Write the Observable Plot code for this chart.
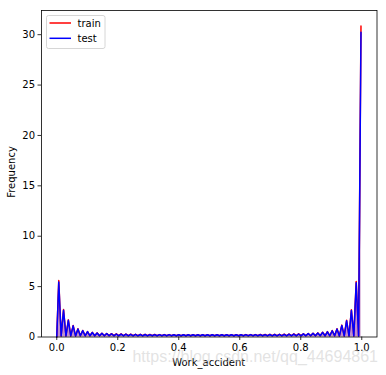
<!DOCTYPE html>
<html>
<head>
<meta charset="utf-8">
<script src="https://cdn.jsdelivr.net/npm/d3@7"></script>
<script src="https://cdn.jsdelivr.net/npm/@observablehq/plot@0.6"></script>
<style>
html,body{margin:0;padding:0;background:#fff;}
#chart{width:386px;height:375px;}
</style>
</head>
<body>
<div id="chart"></div>
<script>
// ---- data ----
const peakX = [0.0066,0.0223,0.0381,0.0538,0.0695,0.0853,0.1010,0.1167,0.1324,0.1482,
  0.1639,0.1796,0.1954,0.2111,0.2268,0.2426,0.2583,0.2740,0.2897,0.3055,
  0.3212,0.3369,0.3527,0.3684,0.3841,0.3999,0.4156,0.4313,0.4470,0.4628,
  0.4785,0.4942,0.5100,0.5257,0.5414,0.5572,0.5729,0.5886,0.6043,0.6201,
  0.6358,0.6515,0.6673,0.6830,0.6987,0.7145,0.7302,0.7459,0.7616,0.7774,
  0.7931,0.8088,0.8246,0.8403,0.8560,0.8718,0.8875,0.9032,0.9189,0.9347,
  0.9504,0.9661,0.9818,0.9975];
const trainPeak = [5.60,2.72,1.70,1.14,0.82,0.65,0.54,0.46,0.41,0.38,
  0.35,0.33,0.31,0.30,0.29,0.28,0.27,0.26,0.26,0.25,
  0.25,0.24,0.24,0.24,0.23,0.23,0.23,0.23,0.23,0.23,
  0.23,0.23,0.23,0.23,0.23,0.23,0.23,0.23,0.23,0.24,
  0.24,0.24,0.25,0.25,0.26,0.26,0.27,0.28,0.29,0.30,
  0.31,0.32,0.35,0.38,0.41,0.47,0.54,0.64,0.82,1.18,
  1.66,2.70,5.50,30.85];
const testPeak = [5.45,2.66,1.66,1.11,0.80,0.63,0.53,0.45,0.40,0.37,
  0.34,0.32,0.30,0.29,0.28,0.27,0.26,0.25,0.25,0.24,
  0.24,0.23,0.23,0.23,0.22,0.22,0.22,0.22,0.22,0.22,
  0.22,0.22,0.22,0.22,0.22,0.22,0.22,0.22,0.22,0.23,
  0.23,0.23,0.24,0.24,0.25,0.25,0.26,0.27,0.28,0.29,
  0.30,0.31,0.34,0.37,0.40,0.46,0.52,0.62,0.80,1.15,
  1.62,2.64,5.38,30.25];
const trainTrough = [0.10,0.10,0.11,0.11,0.12,0.12,0.12,0.13,0.13,0.13,
  0.13,0.13,0.13,0.13,0.13,0.13,0.13,0.13,0.13,0.13,
  0.13,0.13,0.13,0.13,0.13,0.13,0.13,0.13,0.13,0.13,
  0.13,0.13,0.13,0.13,0.13,0.13,0.13,0.13,0.13,0.13,
  0.13,0.13,0.13,0.13,0.13,0.13,0.13,0.13,0.13,0.13,
  0.13,0.13,0.13,0.13,0.13,0.12,0.12,0.12,0.11,0.11,
  0.10,0.10,0.10];
const testTrough = [0.10,0.10,0.11,0.11,0.12,0.12,0.12,0.12,0.12,0.12,
  0.12,0.12,0.12,0.12,0.12,0.12,0.12,0.12,0.12,0.12,
  0.12,0.12,0.12,0.12,0.12,0.12,0.12,0.12,0.12,0.12,
  0.12,0.12,0.12,0.12,0.12,0.12,0.12,0.12,0.12,0.12,
  0.12,0.12,0.12,0.12,0.12,0.12,0.12,0.12,0.12,0.12,
  0.12,0.12,0.12,0.12,0.12,0.12,0.12,0.12,0.11,0.11,
  0.10,0.10,0.10];
const xTicks = [0, 0.2, 0.4, 0.6, 0.8, 1.0];
const yTicks = [0, 5, 10, 15, 20, 25, 30];
const seriesNames = ["train", "test"];
const seriesColors = ["#ff0000", "#0000ff"];

// ---- table ----
const rows = [{x: 0, train: 0, test: 0}];
for (let k = 0; k < peakX.length; k++) {
  rows.push({x: peakX[k], train: trainPeak[k], test: testPeak[k]});
  if (k < peakX.length - 1) {
    rows.push({x: (peakX[k] + peakX[k + 1]) / 2, train: trainTrough[k], test: testTrough[k]});
  }
}

const chart = Plot.plot({
  width: 386, height: 375,
  marginLeft: 41, marginRight: 9.5, marginTop: 10, marginBottom: 38.5,
  style: {fontFamily: "DejaVu Sans", fontSize: "10px", color: "black", background: "white", overflow: "visible"},
  x: {domain: [-0.05, 1.05]},
  y: {domain: [0, 32.4]},
  marks: [
    Plot.lineY(rows, {x: "x", y: "train", stroke: seriesColors[0], strokeWidth: 1.5}),
    Plot.areaY(rows, {x: "x", y: "train", fill: seriesColors[0], fillOpacity: 0.25}),
    Plot.lineY(rows, {x: "x", y: "test", stroke: seriesColors[1], strokeWidth: 1.5}),
    Plot.areaY(rows, {x: "x", y: "test", fill: seriesColors[1], fillOpacity: 0.25}),
    Plot.axisX({ticks: xTicks, tickSize: 3.5, tickPadding: 3, tickFormat: d3.format(".1f"), label: null, strokeWidth: 0.8}),
    Plot.axisY({ticks: yTicks, tickSize: 3.5, tickPadding: 3, label: null, strokeWidth: 0.8}),
    Plot.frame({stroke: "black", strokeWidth: 0.8})
  ]
});
document.getElementById("chart").appendChild(chart);

const svg = d3.select(chart);
// axis titles
svg.append("text").attr("x", 208.7).attr("y", 366).attr("text-anchor", "middle")
  .attr("font-family", "DejaVu Sans").attr("font-size", 10).attr("fill", "black").text("Work_accident");
svg.append("text").attr("transform", "translate(14.5,172) rotate(-90)").attr("text-anchor", "middle")
  .attr("font-family", "DejaVu Sans").attr("font-size", 10).attr("fill", "black").text("Frequency");

// legend
const lg = svg.append("g");
lg.append("rect").attr("x", 46.5).attr("y", 15.5).attr("width", 58.5).attr("height", 33).attr("rx", 2)
  .attr("fill", "white").attr("fill-opacity", 0.8).attr("stroke", "#cccccc").attr("stroke-width", 0.8);
seriesNames.forEach((name, i) => {
  const yy = 23 + i * 15.3;
  lg.append("line").attr("x1", 49.5).attr("x2", 71).attr("y1", yy).attr("y2", yy)
    .attr("stroke", seriesColors[i]).attr("stroke-width", 1.5);
  lg.append("text").attr("x", 77.5).attr("y", yy + 3.6).attr("text-anchor", "start")
    .attr("font-family", "DejaVu Sans").attr("font-size", 10).attr("fill", "black").text(name);
});

// watermark
svg.append("text").attr("x", 378).attr("y", 362).attr("text-anchor", "end")
  .attr("font-family", "Liberation Sans").attr("font-size", 16).attr("fill", "#d0d0d0").attr("fill-opacity", 0.6)
  .text("https://blog.csdn.net/qq_44694861");
</script>
</body>
</html>
